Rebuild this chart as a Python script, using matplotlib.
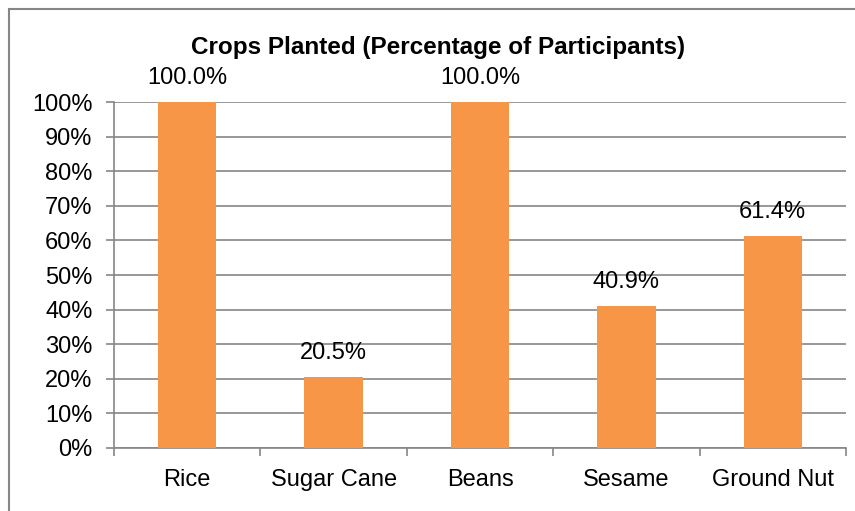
import matplotlib
matplotlib.use("Agg")
import matplotlib.pyplot as plt
from matplotlib.patches import Rectangle
from matplotlib.ticker import FixedLocator, PercentFormatter

categories = ["Rice", "Sugar Cane", "Beans", "Sesame", "Ground Nut"]
values = [100.0, 20.5, 100.0, 40.9, 61.4]
title = "Crops Planted (Percentage of Participants)"

plt.rcParams['font.family'] = ['Liberation Sans', 'DejaVu Sans']

W, H = 855, 511
fig = plt.figure(figsize=(W / 100, H / 100), dpi=100)
ax = fig.add_axes([114 / W, 1 - 448 / H, (846 - 114) / W, (448 - 102) / H])

gray = "#868686"
bar_color = "#F79646"
fs = 17

x = list(range(len(categories)))
ax.bar(x, values, width=0.40, color=bar_color, zorder=3)
ax.set_xlim(-0.5, len(categories) - 0.5)
ax.set_ylim(0, 100)
ax.set_yticks(range(0, 101, 10))
ax.yaxis.set_major_formatter(PercentFormatter(decimals=0))
ax.grid(axis='y', color=gray, linewidth=1.2, zorder=0)
ax.set_axisbelow(True)

for s in ['top', 'right']:
    ax.spines[s].set_visible(False)
for s in ['left', 'bottom']:
    ax.spines[s].set_color(gray)
    ax.spines[s].set_linewidth(1.2)

ax.set_xticks(x)
ax.set_xticklabels(categories)
ax.xaxis.set_minor_locator(FixedLocator([i - 0.5 for i in range(len(categories) + 1)]))
ax.tick_params(axis='x', which='major', length=0, pad=15, labelsize=fs, colors='black')
ax.tick_params(axis='x', which='minor', length=6, width=1.2, color=gray, direction='out')
ax.tick_params(axis='y', length=6, width=1.2, color=gray, pad=9.5, labelsize=fs, labelcolor='black')

for xi, v in zip(x, values):
    ax.annotate(f"{v:.1f}%", (xi, v), xytext=(0, 13), textcoords='offset points',
                ha='center', va='baseline', fontsize=fs, color='black', annotation_clip=False)

fig.text(438.5 / W, 1 - 54 / H, title, ha='center', va='baseline', fontsize=17.5,
         fontweight='bold')

fig.patches.append(Rectangle((9 / W, -0.1), 1.2, 1 - 9 / H + 0.1, transform=fig.transFigure,
                             fill=False, edgecolor=gray, linewidth=1.5))

fig.savefig("out.png", dpi=100)
